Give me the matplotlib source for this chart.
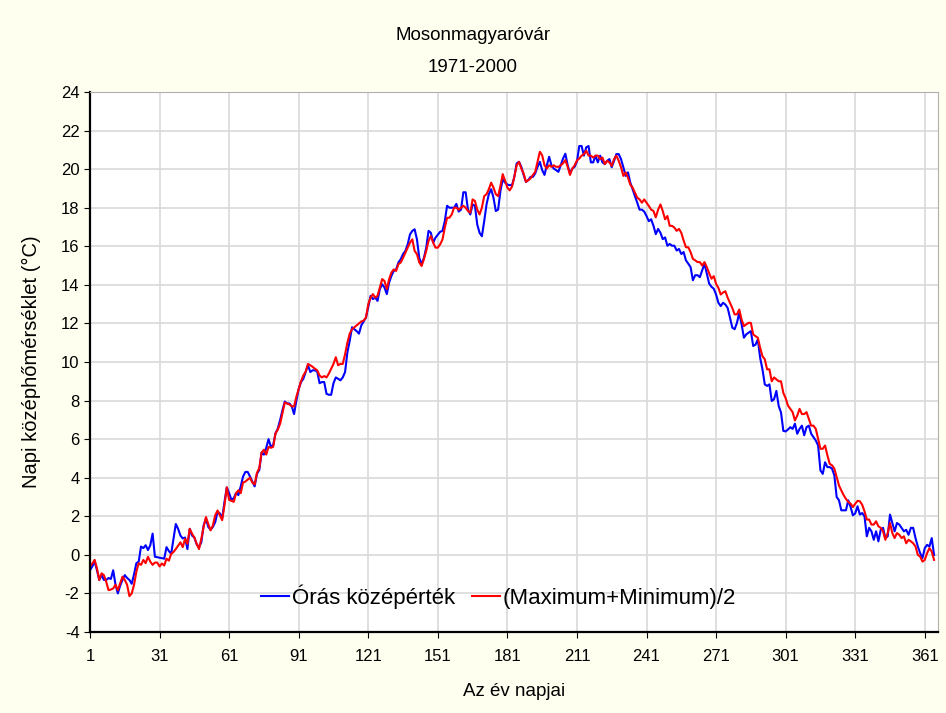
import numpy as np
import matplotlib
matplotlib.use("Agg")
import matplotlib.pyplot as plt

plt.rcParams['font.family'] = ['Liberation Sans', 'DejaVu Sans']
plt.rcParams['axes.unicode_minus'] = False

title_lines = ["Mosonmagyaróvár", "1971-2000"]
x_label = "Az év napjai"
y_label = "Napi középhőmérséklet (°C)"
series_names = ["Órás középérték", "(Maximum+Minimum)/2"]
x_ticks = [1, 31, 61, 91, 121, 151, 181, 211, 241, 271, 301, 331, 361]
y_ticks = list(range(-4, 25, 2))

hourly_mean = [
    -0.8, -0.6, -0.35, -0.8, -1.3, -1.05, -1.3, -1.3, -1.2, -1.25,
    -0.8, -1.55, -2.0, -1.6, -1.3, -1.05, -1.2, -1.3, -1.5, -1.0,
    -0.43, -0.35, 0.43, 0.35, 0.5, 0.25, 0.5, 1.1, -0.1, -0.12,
    -0.15, -0.17, -0.2, 0.4, 0.2, 0.05, 0.83, 1.6, 1.35, 1.0,
    0.85, 0.9, 0.3, 1.35, 1.0, 0.9, 0.55, 0.4, 0.65, 1.53,
    1.88, 1.45, 1.3, 1.45, 1.7, 2.23, 2.15, 1.9, 2.75, 3.5,
    3.2, 2.85, 2.94, 3.2, 3.1, 3.55, 4.06, 4.3, 4.3, 4.06,
    3.8, 3.55, 4.2, 4.4, 5.3, 5.2, 5.55, 6.0, 5.6, 5.7,
    6.3, 6.55, 7.0, 7.5, 7.95, 7.85, 7.85, 7.7, 7.3, 8.0,
    8.6, 8.96, 9.13, 9.48, 9.83, 9.48, 9.57, 9.57, 9.5, 8.9,
    8.96, 8.96, 8.35, 8.3, 8.3, 8.9, 9.2, 9.13, 9.05, 9.2,
    9.48, 10.5, 11.1, 11.8, 11.7, 11.6, 11.47, 11.9, 12.1, 12.3,
    12.85, 13.43, 13.26, 13.34, 13.17, 13.78, 14.03, 13.86, 13.52, 14.12,
    14.47, 14.72, 14.8, 15.16, 15.33, 15.6, 15.76, 16.1, 16.62, 16.8,
    16.88, 16.36, 15.4, 15.07, 15.4, 15.93, 16.8, 16.7, 16.19, 16.45,
    16.6, 16.75, 16.8, 17.3, 18.1, 18.0, 18.0, 18.0, 18.2, 17.8,
    17.9, 18.8, 18.8, 17.9, 17.65, 18.17, 18.1, 17.13, 16.7, 16.52,
    17.3, 18.17, 18.7, 18.96, 18.52, 17.83, 17.9, 18.87, 19.48, 19.3,
    19.2, 19.17, 19.17, 19.6, 20.3, 20.38, 20.12, 19.7, 19.34, 19.43,
    19.6, 19.6, 19.78, 20.12, 20.38, 19.95, 19.7, 20.2, 20.64, 20.2,
    20.03, 19.95, 19.86, 20.2, 20.55, 20.8, 20.2, 19.78, 20.03, 20.12,
    20.4, 21.2, 21.2, 20.7, 21.13, 21.2, 20.35, 20.35, 20.7, 20.35,
    20.7, 20.35, 20.26, 20.43, 20.52, 20.1, 20.43, 20.78, 20.78, 20.52,
    20.1, 19.65, 19.83, 19.3, 18.96, 18.6, 18.26, 17.9, 17.9, 17.8,
    17.57, 17.3, 17.4, 17.06, 16.63, 16.9, 16.7, 16.37, 16.46, 16.03,
    16.12, 16.03, 16.03, 15.78, 15.86, 15.6, 15.7, 15.27, 15.1, 14.92,
    14.24, 14.5, 14.5, 14.4, 14.75, 15.1, 14.58, 14.07, 13.9, 13.8,
    13.5, 13.07, 12.9, 13.07, 12.98, 12.8, 12.3, 11.78, 11.7, 12.03,
    12.55, 11.95, 11.26, 11.43, 11.52, 11.6, 10.83, 10.9, 11.17, 10.22,
    9.62, 8.84, 8.76, 8.84, 7.98, 8.07, 8.5, 7.72, 7.38, 6.43,
    6.4, 6.5, 6.62, 6.53, 6.8, 6.28, 6.53, 6.7, 6.2, 6.62,
    6.7, 6.28, 6.1, 5.93, 5.67, 4.38, 4.2, 4.8, 4.55, 4.55,
    4.47, 4.12, 3.0, 2.83, 2.31, 2.31, 2.31, 2.83, 2.48, 2.05,
    2.15, 2.52, 2.09, 2.17, 2.0, 0.96, 1.4, 1.22, 0.78, 1.22,
    0.7, 1.3, 1.4, 0.87, 0.96, 2.09, 1.65, 1.22, 1.65, 1.57,
    1.4, 1.22, 1.3, 1.04, 1.4, 1.4, 0.87, 0.43, 0.09, -0.17,
    0.35, 0.52, 0.43, 0.87, 0.0,
]

maxmin_mean = [
    -0.6, -0.45, -0.26, -0.7, -1.3, -0.96, -1.05, -1.4, -1.83, -1.8,
    -1.74, -1.55, -1.83, -1.48, -1.13, -1.3, -1.55, -2.14, -2.0, -1.55,
    -0.87, -0.43, -0.52, -0.26, -0.43, -0.1, -0.35, -0.52, -0.4, -0.4,
    -0.6, -0.45, -0.55, -0.2, -0.3, 0.05, 0.15, 0.3, 0.48, 0.65,
    0.4, 0.83, 0.57, 1.35, 1.1, 0.9, 0.57, 0.3, 0.83, 1.45,
    1.96, 1.6, 1.27, 1.53, 2.05, 2.3, 2.05, 1.8, 2.57, 3.5,
    2.85, 2.8, 2.75, 3.2, 3.35, 3.2, 3.75, 3.8, 3.9, 4.0,
    3.75, 3.65, 4.25, 4.5, 5.3, 5.45, 5.2, 5.6, 5.55, 5.6,
    6.3, 6.5, 6.8, 7.35, 7.9, 7.85, 7.8, 7.7, 7.7, 8.2,
    8.6, 9.0, 9.3, 9.5, 9.9, 9.83, 9.75, 9.65, 9.57, 9.3,
    9.2, 9.27, 9.2, 9.4, 9.65, 9.9, 10.25, 9.83, 9.9, 9.9,
    10.4, 11.0, 11.47, 11.7, 11.8, 11.9, 12.0, 12.1, 12.15, 12.3,
    13.0, 13.34, 13.52, 13.34, 13.43, 13.86, 14.3, 14.2, 13.78, 14.3,
    14.64, 14.8, 14.72, 15.07, 15.16, 15.4, 15.67, 15.93, 16.19, 16.36,
    15.76, 15.59, 15.16, 14.98, 15.33, 15.76, 16.28, 16.53, 16.19, 15.93,
    15.93, 16.1, 16.35, 16.96, 17.48, 17.48, 17.65, 18.0, 18.0, 17.9,
    18.0, 18.1, 18.0, 17.83, 17.74, 18.43, 18.35, 17.9, 17.65, 18.0,
    18.6, 18.7, 18.96, 19.3, 19.04, 18.7, 18.6, 19.13, 19.74, 19.4,
    19.04, 18.9, 19.1, 19.6, 20.2, 20.38, 20.03, 19.78, 19.34, 19.43,
    19.52, 19.7, 19.86, 20.38, 20.9, 20.72, 20.2, 20.03, 20.2, 20.12,
    20.2, 20.12, 20.12, 20.2, 20.3, 20.47, 20.12, 19.7, 20.03, 20.2,
    20.45, 20.55, 20.7, 20.78, 20.96, 20.7, 20.7, 20.6, 20.7, 20.7,
    20.52, 20.6, 20.26, 20.43, 20.35, 20.17, 20.52, 20.7, 20.43, 20.1,
    19.65, 19.83, 19.56, 19.2, 19.04, 18.78, 18.52, 18.43, 18.26, 18.43,
    18.26, 18.09, 17.9, 17.83, 17.5, 17.9, 18.17, 17.83, 17.4, 17.57,
    17.06, 17.06, 16.97, 16.8, 16.9, 16.7, 16.3, 15.95, 15.95, 15.7,
    15.35, 15.27, 15.18, 15.18, 15.0, 15.18, 14.92, 14.6, 14.32, 14.45,
    14.05, 13.84, 13.5, 13.6, 13.67, 13.33, 13.07, 12.8, 12.47, 12.47,
    12.72, 12.2, 11.86, 11.95, 12.03, 12.03, 11.43, 11.34, 11.26, 10.74,
    10.3, 10.14, 9.62, 9.62, 9.0, 9.2, 9.1, 9.0, 9.0, 8.4,
    8.12, 7.74, 7.57, 7.4, 6.97, 7.22, 7.57, 7.3, 7.3, 7.4,
    7.05, 6.7, 6.7, 6.53, 6.02, 5.5, 5.5, 5.67, 5.16, 4.72,
    4.64, 4.47, 4.03, 3.6, 3.34, 3.1, 2.9, 2.74, 2.66, 2.48,
    2.65, 2.8, 2.78, 2.6, 2.26, 1.83, 1.83, 1.57, 1.57, 1.74,
    1.48, 1.4, 1.22, 0.78, 1.13, 1.65, 1.13, 0.87, 1.13, 1.04,
    0.87, 0.96, 0.6, 0.78, 0.7, 0.6, 0.43, 0.0, -0.09, -0.35,
    -0.26, 0.09, 0.35, 0.17, -0.26,
]

days_blue = np.arange(1, len(hourly_mean) + 1)
days_red = np.arange(1, len(maxmin_mean) + 1)

fig = plt.figure(figsize=(9.46, 7.13), dpi=100, facecolor='#FFFFF0')
ax = fig.add_axes([90/946, 1 - 632/713, (938-90)/946, (632-92)/713])
ax.set_facecolor('white')

ax.plot(days_blue, hourly_mean, color='#0000FF', lw=1.5, label=series_names[0])
ax.plot(days_red, maxmin_mean, color='#FF0000', lw=1.5, label=series_names[1])

ax.set_xlim(1, 366.7)
ax.set_ylim(-4, 24)
ax.set_xticks(x_ticks)
ax.set_yticks(y_ticks)
ax.grid(True, color='#D9D9D9', lw=1.2)
ax.set_axisbelow(True)
ax.tick_params(axis='both', labelsize=12, direction='out', length=4, color='black')
ax.tick_params(axis='x', pad=8)
for side in ['left', 'bottom']:
    ax.spines[side].set_color('black')
    ax.spines[side].set_linewidth(1.6)
for side in ['top', 'right']:
    ax.spines[side].set_color('#B0B0B0')
    ax.spines[side].set_linewidth(0.8)

ax.set_xlabel(x_label, fontsize=13.5, labelpad=14)
ax.set_ylabel(y_label, fontsize=14.5, labelpad=14)
fig.text(0.5, 1 - 35/713, title_lines[0], ha='center', va='center', fontsize=13.5)
fig.text(0.5, 1 - 67/713, title_lines[1], ha='center', va='center', fontsize=13.5)

ax.legend(loc='lower center', bbox_to_anchor=(0.482, 0.006), ncol=2, frameon=False,
          fontsize=16, handlelength=1.25, handletextpad=0.15, columnspacing=0.75)

fig.savefig('out.png', dpi=100, facecolor=fig.get_facecolor())
